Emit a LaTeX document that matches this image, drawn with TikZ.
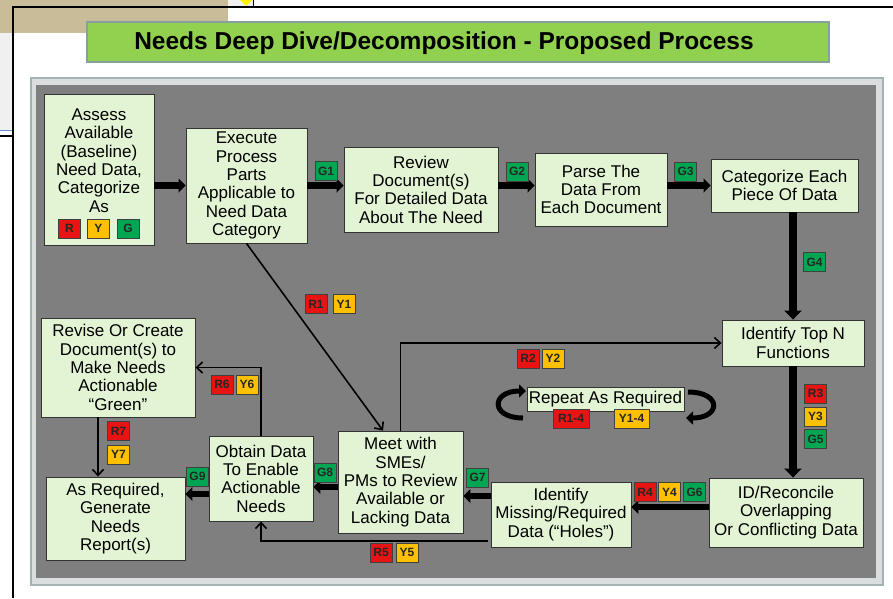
\documentclass[tikz,border=0pt]{standalone}
\usepackage{fontspec}
\setmainfont{Liberation Sans}
\usetikzlibrary{arrows.meta,calc}
\definecolor{titlegreen}{HTML}{92D050}
\definecolor{titlerim}{HTML}{86A0A0}
\definecolor{panelgray}{HTML}{DADEDE}
\definecolor{panelrim}{HTML}{A4B2B2}
\definecolor{darkpanel}{HTML}{7F7F7F}
\definecolor{boxgreen}{HTML}{E3F4D4}
\definecolor{badgered}{HTML}{E81414}
\definecolor{badgeyellow}{HTML}{FFC000}
\definecolor{badgegreen}{HTML}{00A651}
\definecolor{chrometan}{HTML}{C8BD98}
\definecolor{chromegray}{HTML}{F0F0F0}
\definecolor{chromeblue}{HTML}{6A8FD0}
\begin{document}
\begin{tikzpicture}[x=1pt,y=-1pt,
  nbox/.style={draw=black!80, line width=0.9pt, fill=boxgreen, inner sep=0pt,
    align=center, font=\fontsize{17}{18.3}\selectfont},
  ntext/.style={inner sep=0pt, align=center, font=\fontsize{17}{18.3}\selectfont},
  badge/.style={draw=black!75, line width=0.8pt, inner sep=0pt,
    minimum width=22pt, minimum height=19pt, text=black!85,
    font=\fontsize{12}{13}\selectfont\bfseries},
  rb/.style={badge, fill=badgered},
  yb/.style={badge, fill=badgeyellow},
  gb/.style={badge, fill=badgegreen},
  bigarrow/.style={line width=6.5pt, -{Triangle[length=7pt,width=14pt]}},
  tallarrow/.style={line width=8pt, -{Triangle[length=9pt,width=17pt]}},
  thinarrow/.style={line width=1.6pt, -{Straight Barb[length=6pt,width=11pt]}},
  curlarrow/.style={line width=5pt, -{Triangle[length=7pt,width=13pt]}}]

\useasboundingbox (0,0) rectangle (893,598);
\fill[white] (0,0) rectangle (893,598);

% window chrome behind the slide
\fill[chrometan] (0,0) rectangle (228,33);
\fill[chromegray] (228,0) rectangle (253,6);
\fill[chromegray] (0,33) rectangle (12,130);
\draw[chromeblue, line width=1pt] (0,130) -- (12,130);
\draw[line width=1.5pt] (0,136) -- (12,136);
\draw[line width=1.2pt] (253.5,0) -- (253.5,6);
\fill[yellow] (240,0) -- (252,0) -- (246,6) -- cycle;
\draw[line width=2pt] (12.5,598) -- (12.5,7) -- (893,7);

% title bar
\node[draw=titlerim, line width=2pt, fill=titlegreen, minimum width=742pt,
  minimum height=40pt, inner sep=0pt] (title) at (458,42) {};
\node[inner sep=0pt, font=\fontsize{24.5}{28}\selectfont\bfseries] (titletext) at (444,43)
  {Needs Deep Dive/Decomposition - Proposed Process};

% slide panel
\draw[fill=panelgray, draw=panelrim, line width=1.5pt] (31,78) rectangle (883,585);
\fill[darkpanel] (36,85) rectangle (876,578);

% process boxes
\node[nbox, minimum width=110pt, minimum height=151pt] (assess) at (99,169.5) {};
\node[ntext] (assesstext) at (99,160.5)
  {Assess\\Available\\(Baseline)\\Need Data,\\Categorize\\As};
\node[nbox, minimum width=121pt, minimum height=115pt] (execute) at (246.5,185.5)
  {Execute\\Process\\Parts\\Applicable to\\Need Data\\Category};
\node[nbox, minimum width=154pt, minimum height=85pt] (review) at (421,189.5)
  {Review\\Document(s)\\For Detailed Data\\About The Need};
\node[nbox, minimum width=132pt, minimum height=73pt] (parse) at (601,189.5)
  {Parse The\\Data From\\Each Document};
\node[nbox, minimum width=147pt, minimum height=53pt] (categ) at (784.5,185.5)
  {Categorize Each\\Piece Of Data};
\node[nbox, minimum width=142pt, minimum height=46pt] (topn) at (793,343)
  {Identify Top N\\Functions};
\node[nbox, minimum width=154pt, minimum height=69pt] (recon) at (786,512.5)
  {ID/Reconcile\\Overlapping\\Or Conflicting Data};
\node[nbox, minimum width=140pt, minimum height=65pt] (missing) at (561,514.5)
  {Identify\\Missing/Required\\Data (“Holes”)};
\node[nbox, minimum width=125pt, minimum height=102pt] (meet) at (400.5,482)
  {Meet with\\SMEs/\\PMs to Review\\Available or\\Lacking Data};
\node[nbox, minimum width=104pt, minimum height=85pt] (obtain) at (261,478.5)
  {Obtain Data\\To Enable\\Actionable\\Needs};
\node[nbox, minimum width=139pt, minimum height=83pt] (asreq) at (115.5,518.5)
  {As Required,\\Generate\\Needs\\Report(s)};
\node[nbox, minimum width=154pt, minimum height=99pt] (revise) at (118,367.5)
  {Revise Or Create\\Document(s) to\\Make Needs\\Actionable\\“Green”};
\node[nbox, minimum width=157pt, minimum height=24pt] (repeat) at (605.5,399)
  {Repeat As Required};

% main flow
\draw[bigarrow] (assess.east |- execute.west) -- (execute.west);
\draw[bigarrow] (execute.east) -- (execute.east -| review.west);
\draw[bigarrow] (review.east |- execute.east) -- (parse.west |- execute.east);
\draw[bigarrow] (parse.east |- categ.west) -- (categ.west);
\draw[tallarrow] (categ.south -| topn.north) -- (topn.north);
\draw[tallarrow] (topn.south) -- (topn.south |- recon.north);
\coordinate (reconout) at ([yshift=5.5pt]recon.west);
\draw[bigarrow] (reconout) -- (reconout -| missing.east);
\coordinate (missout) at ([yshift=18.5pt]missing.west);
\draw[bigarrow] (missout) -- (missout -| meet.east);
\coordinate (meetout) at ([yshift=-5pt]meet.west);
\draw[bigarrow] (meetout) -- (meetout -| obtain.east);
\coordinate (obtainout) at ([yshift=-15.5pt]obtain.west);
\draw[bigarrow] (obtainout) -- (obtainout -| asreq.east);

% feedback paths
\coordinate (meetin) at ([xshift=-17.5pt]meet.north);
\draw[thinarrow] (execute.south) -- (meetin);
\draw[thinarrow] (meet.north) |- (topn.west);
\draw[thinarrow] (obtain.north) |- (revise.east);
\coordinate (missback) at ([yshift=-26.5pt]missing.west);
\draw[thinarrow] ([xshift=-3pt]missback) -| (obtain.south);
\coordinate (reviseout) at ([xshift=-20pt]revise.south);
\draw[thinarrow] (reviseout) -- (reviseout |- asreq.north);

% repeat loop arrows
\coordinate (lcurlA) at (523,418);
\coordinate (lcurlB) at (526,391);
\coordinate (rcurlA) at (688,392);
\coordinate (rcurlB) at (686,418);
\draw[curlarrow] (lcurlA) .. controls (490,418) and (491,391) .. (lcurlB);
\draw[curlarrow] (rcurlA) .. controls (722,392) and (721,418) .. (rcurlB);

% status badges
\node[rb] (bR) at (69.5,228.5) {R};
\node[yb] (bY) at (98.5,228.5) {Y};
\node[gb] (bG) at (128,228.5) {G};
\node[gb] (g1) at (326,171) {G1};
\node[gb] (g2) at (517,171.5) {G2};
\node[gb] (g3) at (685.5,171.5) {G3};
\node[gb] (g4) at (814.5,262) {G4};
\node[rb] (r1) at (316,304) {R1};
\node[yb] (y1) at (344,304) {Y1};
\node[rb] (r2) at (528,358.5) {R2};
\node[yb] (y2) at (553,358.5) {Y2};
\node[rb] (r3) at (815.5,393.5) {R3};
\node[yb] (y3) at (815.5,416.5) {Y3};
\node[gb] (g5) at (815.5,439) {G5};
\node[rb] (r4) at (645,492) {R4};
\node[yb] (y4) at (669.5,492) {Y4};
\node[gb] (g6) at (694.5,492) {G6};
\node[gb] (g7) at (477.5,477.5) {G7};
\node[gb] (g8) at (325,472.5) {G8};
\node[gb] (g9) at (197.5,476.5) {G9};
\node[rb] (r5) at (381,552.5) {R5};
\node[yb] (y5) at (407,552.5) {Y5};
\node[rb] (r6) at (222,384.5) {R6};
\node[yb] (y6) at (247,384.5) {Y6};
\node[rb] (r7) at (118.5,431) {R7};
\node[yb] (y7) at (118.5,454.5) {Y7};
\node[rb, minimum width=36pt] (r14) at (571,418.5) {R1-4};
\node[yb, minimum width=35pt] (y14) at (631.5,418.5) {Y1-4};
\end{tikzpicture}
\end{document}
